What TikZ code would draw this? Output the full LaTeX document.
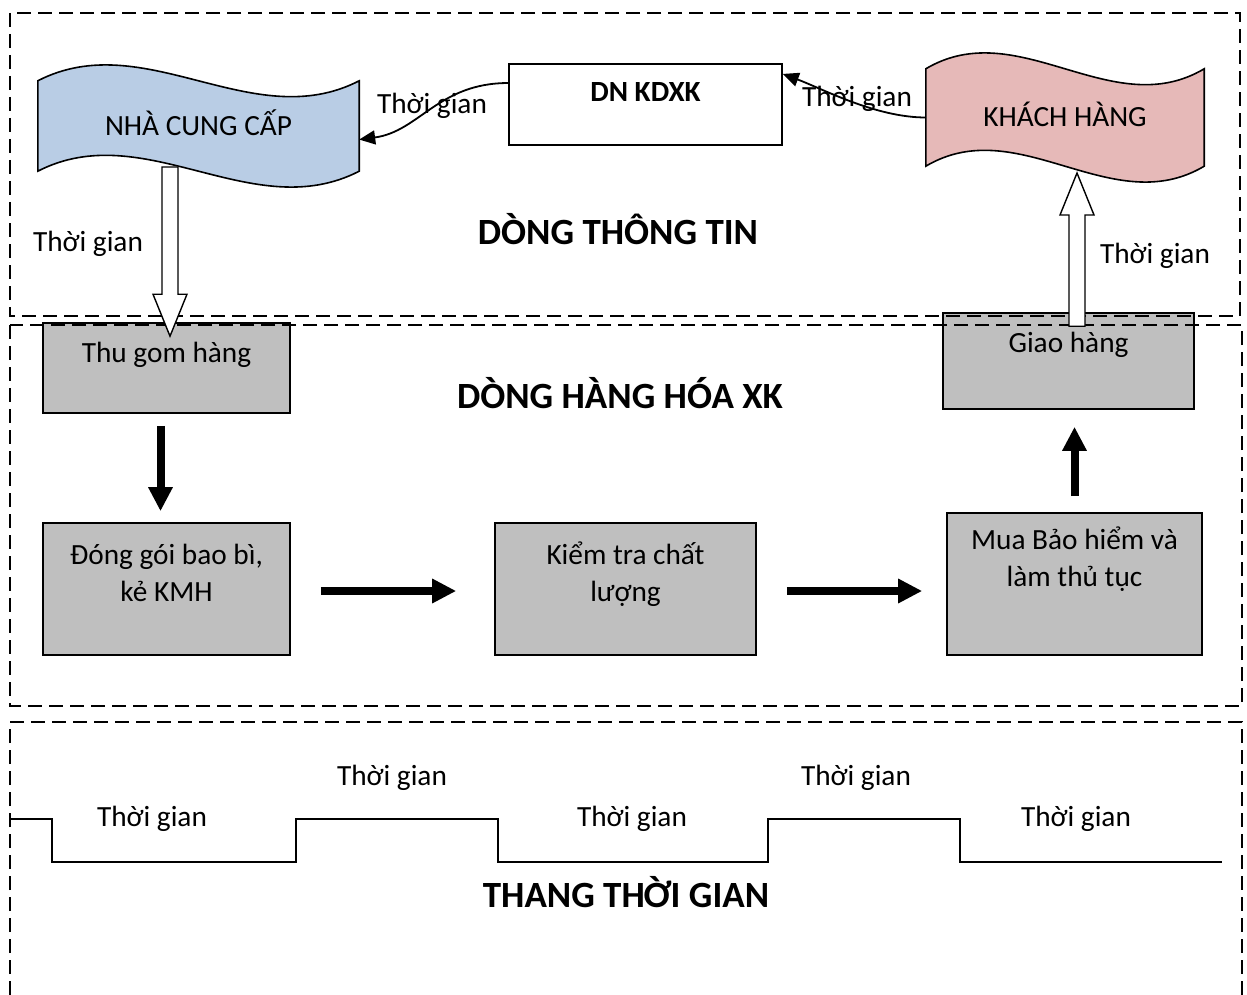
\documentclass[tikz,border=0pt]{standalone}
\usepackage{fontspec}
\setmainfont{Carlito}
\usetikzlibrary{arrows.meta,calc,positioning}

\newcommand{\fs}{\fontsize{29.3}{37}\selectfont}
\newcommand{\ft}{\fontsize{37}{44}\selectfont\bfseries}

\definecolor{nccblue}{HTML}{B9CDE5}
\definecolor{khpink}{HTML}{E6B9B8}
\definecolor{boxgray}{HTML}{BFBFBF}

\tikzset{
  frame/.style={line width=1.4pt, dash pattern=on 14pt off 7pt},
  grbox/.style={draw, line width=1.6pt, fill=boxgray, rectangle, inner sep=0pt},
  boxtext/.style={anchor=north, inner sep=0pt, align=center, font=\fs},
  wavebase/.style={rectangle, inner sep=0pt},
  flow/.style={line width=8pt, -{Triangle[length=24pt,width=23pt]}},
  conn/.style={line width=1.8pt, -{Triangle[length=16pt,width=14pt]}},
  lbl/.style={font=\fs, inner sep=0pt},
  title/.style={font=\ft, inner sep=0pt},
}

% wavy banner: name, position, width, height, fill, text
\newcommand{\banner}[6]{%
  \node[wavebase, minimum width=#3pt, minimum height=#4pt] (#1) at #2 {};
  \draw[line width=1.6pt, fill=#5] (#1.north west)
    .. controls +(#3/3,-55) and +(-#3/3,55) .. (#1.north east)
    -- (#1.south east)
    .. controls +(-#3/3,55) and +(#3/3,-55) .. (#1.south west) -- cycle;
  \node[lbl] (#1text) at ($(#1)+(0,-3)$) {#6};
}

% hollow block arrow, vertical: from, to
\newcommand{\hollow}[2]{%
  \draw[line width=1.4pt, fill=white] let \p1=(#1), \p2=(#2),
    \n1={\y2+42*sign(\y1-\y2)} in
    (\x1-8pt,\y1) -- (\x1-8pt,\n1*1pt) -- (\x1-17pt,\n1*1pt) -- (\x1,\y2)
    -- (\x1+17pt,\n1*1pt) -- (\x1+8pt,\n1*1pt) -- (\x1+8pt,\y1) -- cycle;
}

\begin{document}
\begin{tikzpicture}[x=1pt, y=-1pt]
\useasboundingbox (0,0) rectangle (1247,995);

% goods flow
\node[grbox, minimum width=247pt, minimum height=90pt] (thu) at (166.5,368) {};
\node[grbox, minimum width=247pt, minimum height=132pt] (dong) at (166.5,589) {};
\node[grbox, minimum width=261pt, minimum height=132pt] (kiem) at (625.5,589) {};
\node[grbox, minimum width=255pt, minimum height=142pt] (mua) at (1074.5,584) {};
\node[grbox, minimum width=251pt, minimum height=96pt] (giao) at (1068.5,361) {};
\node[boxtext, below=14pt of thu.north] (thut) {\strut Thu gom hàng};
\node[boxtext, below=16pt of dong.north] (dongt) {\strut Đóng gói bao bì,\\ kẻ KMH};
\node[boxtext, below=16pt of kiem.north] (kiemt) {\strut Kiểm tra chất\\ lượng};
\node[boxtext, below=11pt of mua.north] (muat) {\strut Mua Bảo hiểm và\\ làm thủ tục};
\node[boxtext, below=14pt of giao.north] (giaot) {\strut Giao hàng};

% frames
\draw[frame] (10,13) rectangle (1240,316);
\draw[frame] (10,325) rectangle (1242,706);
\draw[frame] (10,995) -- (10,722) -- (1242,722) -- (1242,995);

% info flow
\node[draw, line width=1.6pt, fill=white, inner sep=0pt,
      minimum width=273pt, minimum height=81pt] (dn) at (645.5,104.5) {};
\node[boxtext, font=\fs\bfseries, below=12.6pt of dn.north] (dnt) {\strut DN KDXK};
\banner{ncc}{(198.5,126)}{321}{90}{nccblue}{NHÀ CUNG CẤP}
\banner{kh}{(1065,117.5)}{278}{97}{khpink}{KHÁCH HÀNG}

\coordinate (dnw) at ($(dn.north west)!0.24!(dn.south west)$);
\coordinate (dne) at ($(dn.north east)!0.13!(dn.south east)$);
\coordinate (ncce) at ($(ncc.north east)!0.65!(ncc.south east)$);
\draw[conn] (dnw) .. controls +(-70,0) and +(60,-8) .. (ncce);
\draw[conn] (kh.west) .. controls +(-50,0) and +(40,15) .. (dne);
\node[lbl] (g1) at (432,106) {Thời gian};
\node[lbl] (g2) at (857,99) {Thời gian};

\coordinate (nccfoot) at (170,167);
\coordinate (thutop) at ($(nccfoot |- thu.north)+(0,14)$);
\hollow{nccfoot}{thutop}
\coordinate (khfoot) at (1077,173);
\coordinate (giaotop) at ($(khfoot |- giao.north)+(0,14)$);
\hollow{giaotop}{khfoot}
\node[lbl] (g3) at (88,244) {Thời gian};
\node[lbl] (g4) at (1155,256) {Thời gian};

\draw[flow, shorten <=12pt, shorten >=11pt] ($(thu.south)+(-6,0)$) -- ($(dong.north)+(-6,0)$);
\draw[flow, shorten <=30pt, shorten >=38pt] ($(dong.east)+(0,2)$) -- ($(kiem.west)+(0,2)$);
\draw[flow, shorten <=30pt, shorten >=24pt] ($(kiem.east)+(0,2)$) -- ($(kiem.east -| mua.west)+(0,2)$);
\draw[flow, shorten <=16pt, shorten >=17pt] (mua.north) -- (mua.north |- giao.south);

% time scale
\draw[line width=1.6pt] (10,819) -| (52,862) -| (296,819) -| (498,862) -| (768,819) -| (960,862) -- (1222,862);
\foreach \x/\y [count=\i] in {152/819, 392/778, 632/819, 856/778, 1076/819}
  \node[lbl] (s\i) at (\x,\y) {Thời gian};

\node[title] (info) at (618,229) {DÒNG THÔNG TIN};
\node[title] (goods) at (620,393) {DÒNG HÀNG HÓA XK};
\node[title] (scale) at (626,892) {THANG THỜI GIAN};
\end{tikzpicture}
\end{document}
